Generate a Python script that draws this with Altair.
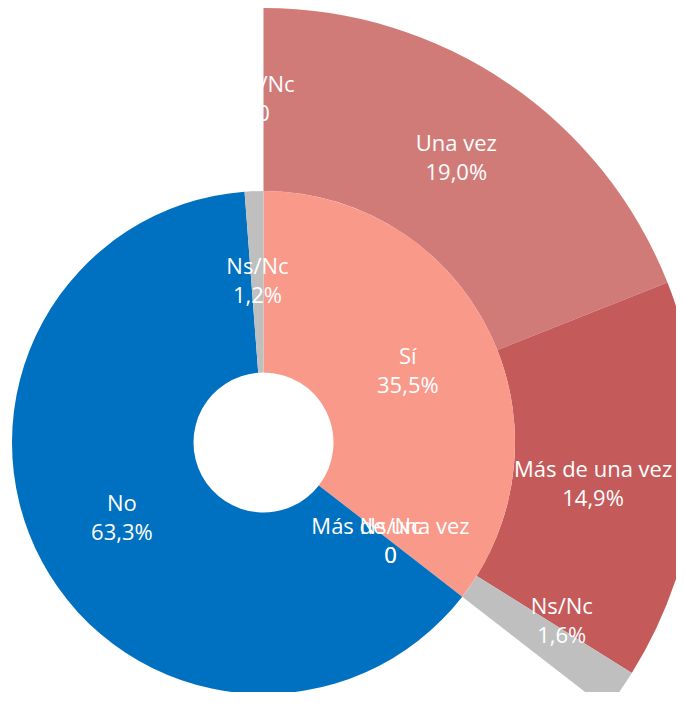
import math
import pandas as pd
import altair as alt

# Inner ring (main answer)
inner_labels = ["Sí", "No", "Ns/Nc"]
inner_values = [35.5, 63.3, 1.2]
inner_colors = ["#F9998A", "#0070C0", "#BFBFBF"]

# Outer ring (breakdown of "Sí")
outer_labels = ["Una vez", "Más de una vez", "Ns/Nc"]
outer_values = [19.0, 14.9, 1.6]
outer_colors = ["#D07B78", "#C55A5A", "#BFBFBF"]

# Zero-valued labels drawn by the original chart
zero_inner_labels = ["Más de una vez", "Ns/Nc"]   # at end of "Sí", inner ring
zero_outer_labels = ["Ns/Nc"]                     # at end of inner "Ns/Nc", outer ring

# small label nudges (pixels) used by the original layout for outer labels
label_nudge = {"Más de una vez": (-12, 11), "Ns/Nc": (17, -17)}


def fmt(v):
    return f"{v:.1f}".replace(".", ",") + "%"


rows = []
acc = 0.0
for lab, v, c in zip(inner_labels, inner_values, inner_colors):
    rows.append(dict(key="in_" + lab, label=lab, start=acc, end=acc + v,
                     text=f"{lab}\n{fmt(v)}", color=c))
    acc += v
inner = pd.DataFrame(rows)

rows = []
acc = float(inner.loc[inner.label == "Sí", "start"].iloc[0])
for lab, v, c in zip(outer_labels, outer_values, outer_colors):
    rows.append(dict(key="out_" + lab, label=lab, start=acc, end=acc + v,
                     text=f"{lab}\n{fmt(v)}", color=c))
    acc += v
outer = pd.DataFrame(rows)

si_end = float(inner.loc[inner.label == "Sí", "end"].iloc[0])
ns_end = float(inner.loc[inner.label == "Ns/Nc", "end"].iloc[0])
zin = pd.DataFrame([dict(start=si_end, end=si_end, text=f"{l}\n0") for l in zero_inner_labels])
zout = pd.DataFrame([dict(start=ns_end, end=ns_end, text=f"{l}\n0") for l in zero_outer_labels])

for df in (inner, outer, zin, zout):
    df["mid"] = (df["start"] + df["end"]) / 2

CX, CY = 255.5, 434.5
R0, R1, R2 = 70, 251.5, 434.5
FONT, FS, LH = "Open Sans", 22, 29

theta_scale = alt.Scale(domain=[0, 100], range=[0, 2 * math.pi])
keys = list(inner["key"]) + list(outer["key"])
cols = list(inner["color"]) + list(outer["color"])
color_scale = alt.Scale(domain=keys, range=cols)


def arcs(df, r_in, r_out):
    return alt.Chart(df).mark_arc(radius=r_out, radius2=r_in, stroke=None).encode(
        theta=alt.Theta("start:Q", stack=None, scale=theta_scale),
        theta2="end:Q",
        color=alt.Color("key:N", scale=color_scale, legend=None),
        x=alt.value(CX),
        y=alt.value(CY),
    )


def labels(df, r, dx=0, dy=0):
    return alt.Chart(df).mark_text(
        color="white", font=FONT, fontSize=FS, lineBreak="\n", lineHeight=LH,
        align="center", baseline="middle", dx=dx, dy=dy - LH / 2
    ).encode(
        theta=alt.Theta("mid:Q", stack=None, scale=theta_scale),
        radius=alt.value(r),
        text="text:N",
        x=alt.value(CX),
        y=alt.value(CY),
    )


rm_in = (R0 + R1) / 2
rm_out = (R1 + R2) / 2

layers = [arcs(outer, R1, R2), arcs(inner, R0, R1), labels(inner, rm_in), labels(zin, rm_in)]
for lab in outer_labels:
    ndx, ndy = label_nudge.get(lab, (0, 0))
    layers.append(labels(outer[outer.label == lab], rm_out, ndx, ndy))
layers.append(labels(zout, rm_out))

chart = alt.layer(*layers).properties(
    width=668, height=684, padding=0, autosize=alt.AutoSizeParams(type="none")
).configure_view(stroke=None)

chart.save("out.html", embed_options={"renderer": "svg", "actions": False})
